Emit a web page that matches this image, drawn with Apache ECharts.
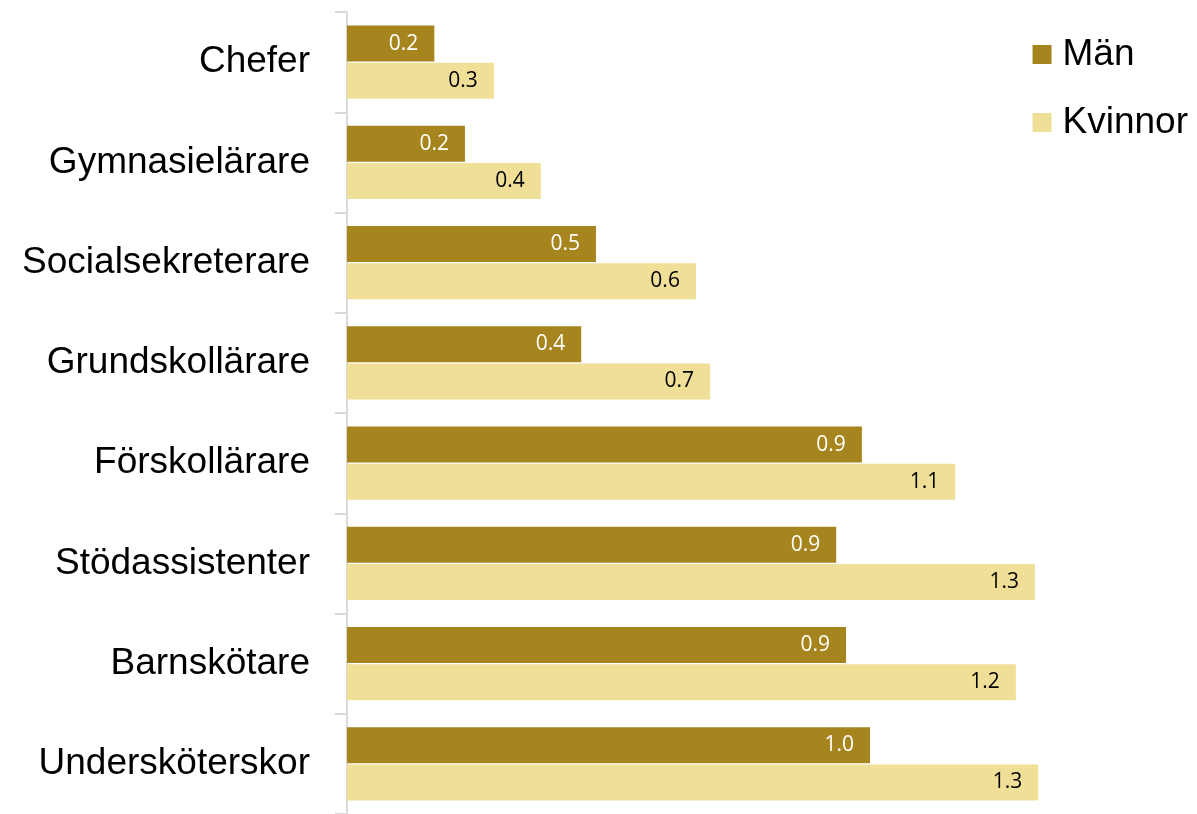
<!DOCTYPE html>
<html>
<head>
<meta charset="utf-8">
<script src="https://cdn.jsdelivr.net/npm/echarts@6/dist/echarts.min.js"></script>
<style>html,body{margin:0;padding:0;background:#fff;}#c{width:1197px;height:814px;}</style>
</head>
<body>
<div id="c"></div>
<script>
const categories = ['Chefer','Gymnasielärare','Socialsekreterare','Grundskollärare','Förskollärare','Stödassistenter','Barnskötare','Undersköterskor'];
const man = [0.16, 0.216, 0.456, 0.429, 0.943, 0.896, 0.914, 0.958];
const kvinnor = [0.269, 0.355, 0.639, 0.665, 1.114, 1.26, 1.225, 1.266];
const seriesNames = ['Män', 'Kvinnor'];

const chart = echarts.init(document.getElementById('c'));
const labelFont = '"Liberation Sans", Arial, sans-serif';
chart.setOption({
  animation: false,
  legend: {
    orient: 'vertical', right: 4, top: 31,
    itemWidth: 19, itemHeight: 19, itemGap: 31,
    icon: 'rect',
    textStyle: { fontSize: 37, lineHeight: 37, color: '#000', fontFamily: labelFont, padding: [0,0,0,6] },
    data: seriesNames
  },
  grid: { left: 347, top: 12, width: 819, height: 806.5, containLabel: false },
  xAxis: { type: 'value', min: 0, max: 1.5, show: false },
  yAxis: {
    type: 'category', inverse: true, data: categories,
    axisLine: { show: true, lineStyle: { color: '#D9D9D9', width: 2 } },
    axisTick: { show: true, length: 12, lineStyle: { color: '#D9D9D9', width: 2 } },
    axisLabel: { fontSize: 37, color: '#000', fontFamily: labelFont, margin: 37 }
  },
  series: [
    {
      name: seriesNames[0], type: 'bar', data: man,
      barCategoryGap: '27%', barGap: '3%',
      itemStyle: { color: '#A6841E' },
      label: { show: true, position: 'insideRight', offset: [-11, 0], color: '#fff', fontSize: 21, fontFamily: '"Open Sans", sans-serif', formatter: p => p.value.toFixed(1) }
    },
    {
      name: seriesNames[1], type: 'bar', data: kvinnor,
      barCategoryGap: '27%', barGap: '3%',
      itemStyle: { color: '#F0DF97' },
      label: { show: true, position: 'insideRight', offset: [-11, 0], color: '#000', fontSize: 21, fontFamily: '"Open Sans", sans-serif', formatter: p => p.value.toFixed(1) }
    }
  ]
});
</script>
</body>
</html>
